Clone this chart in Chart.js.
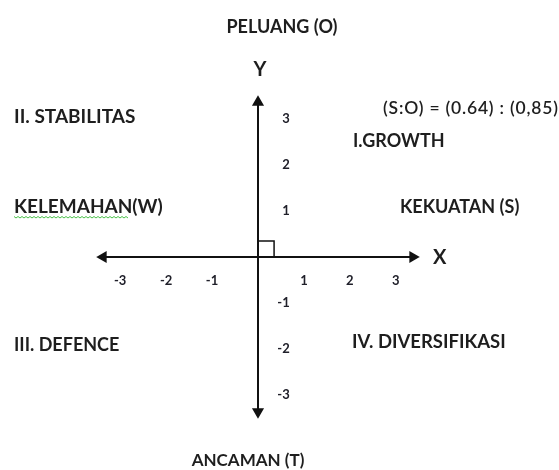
<!DOCTYPE html>
<html>
<head>
<meta charset="utf-8">
<script src="https://cdn.jsdelivr.net/npm/chart.js@4.4.1/dist/chart.umd.min.js"></script>
<style>
  html, body { margin: 0; background: #fff; }
  #wrap { width: 559px; height: 470px; }
</style>
</head>
<body>
<div id="wrap"><canvas id="swot"></canvas></div>
<script>
// SWOT position diagram (Cartesian quadrants)
const xTicks = [-3, -2, -1, 1, 2, 3];
const yTicks = [-3, -2, -1, 1, 2, 3];
const axisReach = 3.37;            // centre of the arrow heads
const rightAngle = [{ x: 0, y: 0.35 }, { x: 0.35, y: 0.35 }, { x: 0.35, y: 0 }];

const factorLabels = ['PELUANG (O)', 'ANCAMAN (T)', 'KELEMAHAN(W)', 'KEKUATAN (S)'];
const quadrantLabels = ['I.GROWTH', 'II. STABILITAS', 'III. DEFENCE', 'IV. DIVERSIFIKASI'];
const axisNames = ['X', 'Y'];
const scoreS = '0.64';
const scoreO = '0,85';

const FONT = 'Lato, "Noto Sans", sans-serif';

// texts drawn on top of the axes
const textPlugin = {
  id: 'swotText',
  afterDatasetsDraw(chart) {
    const c = chart.ctx;
    c.save();
    c.fillStyle = '#1e1e1e';
    c.textBaseline = 'middle';
    const put = (t, x, y, size, align, weight, spacing) => {
      c.font = `${weight || 'bold'} ${size}px ${FONT}`;
      c.textAlign = align || 'left';
      c.letterSpacing = spacing || '0px';
      c.fillText(t, x, y);
    };
    put(factorLabels[0], 282, 27, 18, 'center');
    put(factorLabels[1], 248, 461, 17, 'center');
    put(factorLabels[2], 14, 207, 19);
    put(factorLabels[3], 400, 207, 18);
    put(quadrantLabels[0], 353, 141, 18);
    put(quadrantLabels[1], 14, 117, 19);
    put(quadrantLabels[2], 14, 345, 18);
    put(quadrantLabels[3], 352, 342, 18.5);
    put(axisNames[0], 433, 258, 20);
    put(axisNames[1], 260, 70, 20, 'center');
    put(`(S:O) = (${scoreS}) : (${scoreO})`, 383, 108, 17.5, 'left', '600', '0.8px');
    c.letterSpacing = '0px';

    // spell-check squiggle under KELEMAHAN
    c.strokeStyle = '#49c049';
    c.lineWidth = 1;
    c.beginPath();
    for (let x = 14, i = 0; x <= 128; x += 2, i++) {
      const y = 217 + (i % 2 ? 1 : -0.5);
      if (i === 0) c.moveTo(x, y); else c.lineTo(x, y);
    }
    c.stroke();
    c.restore();
  }
};

const tickFont = { family: FONT, weight: 'bold', size: 13 };

new Chart(document.getElementById('swot'), {
  type: 'scatter',
  data: {
    datasets: [
      {
        data: [{ x: -axisReach, y: 0 }, { x: axisReach, y: 0 }],
        showLine: true,
        borderColor: '#111',
        backgroundColor: '#111',
        borderWidth: 2,
        pointStyle: 'triangle',
        pointRadius: 5,
        pointRotation: [-90, 90]
      },
      {
        data: [{ x: 0, y: -axisReach }, { x: 0, y: axisReach }],
        showLine: true,
        borderColor: '#111',
        backgroundColor: '#111',
        borderWidth: 2,
        pointStyle: 'triangle',
        pointRadius: 5,
        pointRotation: [180, 0]
      },
      {
        data: rightAngle,
        showLine: true,
        borderColor: '#111',
        borderWidth: 1.5,
        pointRadius: 0
      }
    ]
  },
  options: {
    responsive: true,
    maintainAspectRatio: false,
    animation: false,
    layout: { padding: { left: 88, right: 131, top: 87, bottom: 43 } },
    plugins: { legend: { display: false }, tooltip: { enabled: false } },
    scales: {
      x: {
        type: 'linear',
        min: -3.7,
        max: 3.7,
        position: { y: 0 },
        grid: { display: false, drawTicks: false },
        border: { display: false },
        afterBuildTicks: (s) => { s.ticks = xTicks.map((v) => ({ value: v })); },
        ticks: { font: tickFont, color: '#20202a', padding: 16, maxRotation: 0, autoSkip: false }
      },
      y: {
        type: 'linear',
        min: -3.7,
        max: 3.7,
        position: { x: 0.69 },
        grid: { display: false, drawTicks: false },
        border: { display: false },
        afterBuildTicks: (s) => { s.ticks = yTicks.map((v) => ({ value: v })); },
        ticks: { font: tickFont, color: '#20202a', autoSkip: false }
      }
    }
  },
  plugins: [textPlugin]
});
</script>
</body>
</html>
